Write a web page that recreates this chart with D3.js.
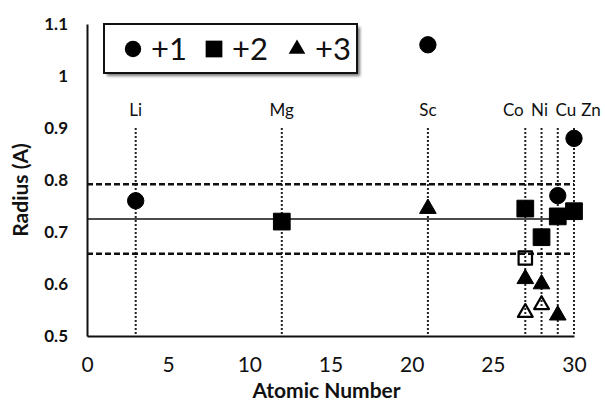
<!DOCTYPE html>
<html>
<head>
<meta charset="utf-8">
<script src="https://cdn.jsdelivr.net/npm/d3@7"></script>
<style>
  body { margin: 0; background: #fff; }
  text { font-family: Lato, "Open Sans", sans-serif; fill: #111; }
</style>
</head>
<body>
<div id="chart"></div>
<script>
// element guide lines
const elements = ['Li', 'Mg', 'Sc', 'Co', 'Ni', 'Cu', 'Zn'];
const atomicNumbers = [3, 12, 21, 27, 28, 29, 30];
const labelNudge = [0, 0, 0, -12, -2, 8, 17]; // labels are crowded at the right end

// ionic radii by charge (open = low spin)
const ionZ      = [3, 21, 29, 30, 12, 27, 27, 28, 29, 30, 21, 27, 27, 28, 28, 29];
const ionCharge = [1, 1, 1, 1, 2, 2, 2, 2, 2, 2, 3, 3, 3, 3, 3, 3];
const ionRadius = [0.76, 1.06, 0.77, 0.88, 0.72, 0.745, 0.65, 0.69, 0.73, 0.74, 0.745, 0.61, 0.545, 0.60, 0.56, 0.54];
const ionOpen   = [0, 0, 0, 0, 0, 0, 1, 0, 0, 0, 0, 0, 1, 0, 1, 0];

const meanRadius = 0.725;
const bandRadius = [0.658, 0.792];

const xTicks = [0, 5, 10, 15, 20, 25, 30];
const yTicks = [0.5, 0.6, 0.7, 0.8, 0.9, 1, 1.1];
const legendLabels = ['+1', '+2', '+3'];

const W = 605, H = 409;
const margin = {top: 24, right: 31, bottom: 73, left: 87};
const width = W - margin.left - margin.right,
      height = H - margin.top - margin.bottom;

const svg = d3.select('#chart').append('svg')
    .attr('width', W).attr('height', H)
  .append('g')
    .attr('transform', 'translate(' + margin.left + ',' + margin.top + ')');

const x = d3.scaleLinear().domain([0, 30]).range([0, width]);
const y = d3.scaleLinear().domain([0.5, 1.1]).range([height, 0]);

const shapes = {1: d3.symbolCircle, 2: d3.symbolSquare, 3: d3.symbolTriangle};
const sizes = {1: 210, 2: 280, 3: 120};
const openSizes = {2: 180, 3: 95};

// axes (no ticks, just the lines and labels)
const xAxis = svg.append('g')
    .attr('transform', 'translate(0,' + height + ')')
    .call(d3.axisBottom(x).tickValues(xTicks).tickSize(0).tickPadding(21).tickFormat(d3.format('d')));
xAxis.select('.domain').attr('stroke', '#111').attr('stroke-width', 2);
xAxis.selectAll('text').style('font-size', '21px').attr('fill', '#111');

const yAxis = svg.append('g')
    .call(d3.axisLeft(y).tickValues(yTicks).tickSize(0).tickPadding(19).tickFormat(d => d3.format('')(d)));
yAxis.select('.domain').attr('stroke', '#111').attr('stroke-width', 2);
yAxis.selectAll('text').style('font-size', '17px').style('font-weight', 'bold').attr('fill', '#111');

// vertical dotted guides + element names
const guideTop = 104;
svg.selectAll('.guide')
    .data(atomicNumbers)
    .enter().append('line')
    .attr('class', 'guide')
    .attr('x1', d => x(d)).attr('x2', d => x(d))
    .attr('y1', guideTop).attr('y2', height)
    .attr('stroke', '#222').attr('stroke-width', 2)
    .attr('stroke-dasharray', '2,2');

svg.selectAll('.elabel')
    .data(elements)
    .enter().append('text')
    .attr('class', 'elabel')
    .attr('x', (d, i) => x(atomicNumbers[i]) + labelNudge[i])
    .attr('y', 92)
    .attr('text-anchor', 'middle')
    .style('font-size', '17px')
    .text(d => d);

// mean and band lines
svg.append('line')
    .attr('x1', 0).attr('x2', x(30))
    .attr('y1', y(meanRadius)).attr('y2', y(meanRadius))
    .attr('stroke', '#111').attr('stroke-width', 1.6);

svg.selectAll('.band')
    .data(bandRadius)
    .enter().append('line')
    .attr('class', 'band')
    .attr('x1', 0).attr('x2', x(30))
    .attr('y1', d => y(d)).attr('y2', d => y(d))
    .attr('stroke', '#111').attr('stroke-width', 2.5)
    .attr('stroke-dasharray', '6,3');

// markers
const ions = ionZ.map((z, i) => ({z, c: ionCharge[i], r: ionRadius[i], open: ionOpen[i]}));

svg.selectAll('.ion')
    .data(ions)
    .enter().append('path')
    .attr('class', 'ion')
    .attr('transform', d => 'translate(' + x(d.z) + ',' + y(d.r) + ')')
    .attr('d', d => d3.symbol().type(shapes[d.c]).size(d.open ? openSizes[d.c] : sizes[d.c])())
    .attr('fill', d => d.open ? 'none' : '#000')
    .attr('stroke', '#000')
    .attr('stroke-width', d => d.open ? 2.2 : 1)
    .attr('stroke-linejoin', 'round');

// legend
const lg = svg.append('g').attr('transform', 'translate(' + (104 - margin.left) + ',' + (24 - margin.top) + ')');
lg.append('rect')
    .attr('x', 3).attr('y', 3).attr('width', 253).attr('height', 49)
    .attr('fill', '#777').style('filter', 'blur(1.5px)');
lg.append('rect')
    .attr('width', 253).attr('height', 49)
    .attr('fill', '#fff').attr('stroke', '#111').attr('stroke-width', 2);

const legendX = [29, 110, 193];
lg.selectAll('.lsym')
    .data(legendLabels)
    .enter().append('path')
    .attr('transform', (d, i) => 'translate(' + legendX[i] + ',25)')
    .attr('d', (d, i) => d3.symbol().type(shapes[i + 1]).size(sizes[i + 1])())
    .attr('fill', '#000');

lg.selectAll('.ltxt')
    .data(legendLabels)
    .enter().append('text')
    .attr('x', (d, i) => legendX[i] + 18)
    .attr('y', 36)
    .style('font-size', '31px')
    .text(d => d);

// axis titles
svg.append('text')
    .attr('x', x(15) - 4)
    .attr('y', height + 62)
    .attr('text-anchor', 'middle')
    .style('font-size', '21px').style('font-weight', 'bold')
    .text('Atomic Number');

svg.append('text')
    .attr('transform', 'translate(' + (28 - margin.left) + ',' + (190 - margin.top) + ') rotate(-90)')
    .attr('text-anchor', 'middle')
    .style('font-size', '21px').style('font-weight', 'bold')
    .text('Radius (A)');
</script>
</body>
</html>
